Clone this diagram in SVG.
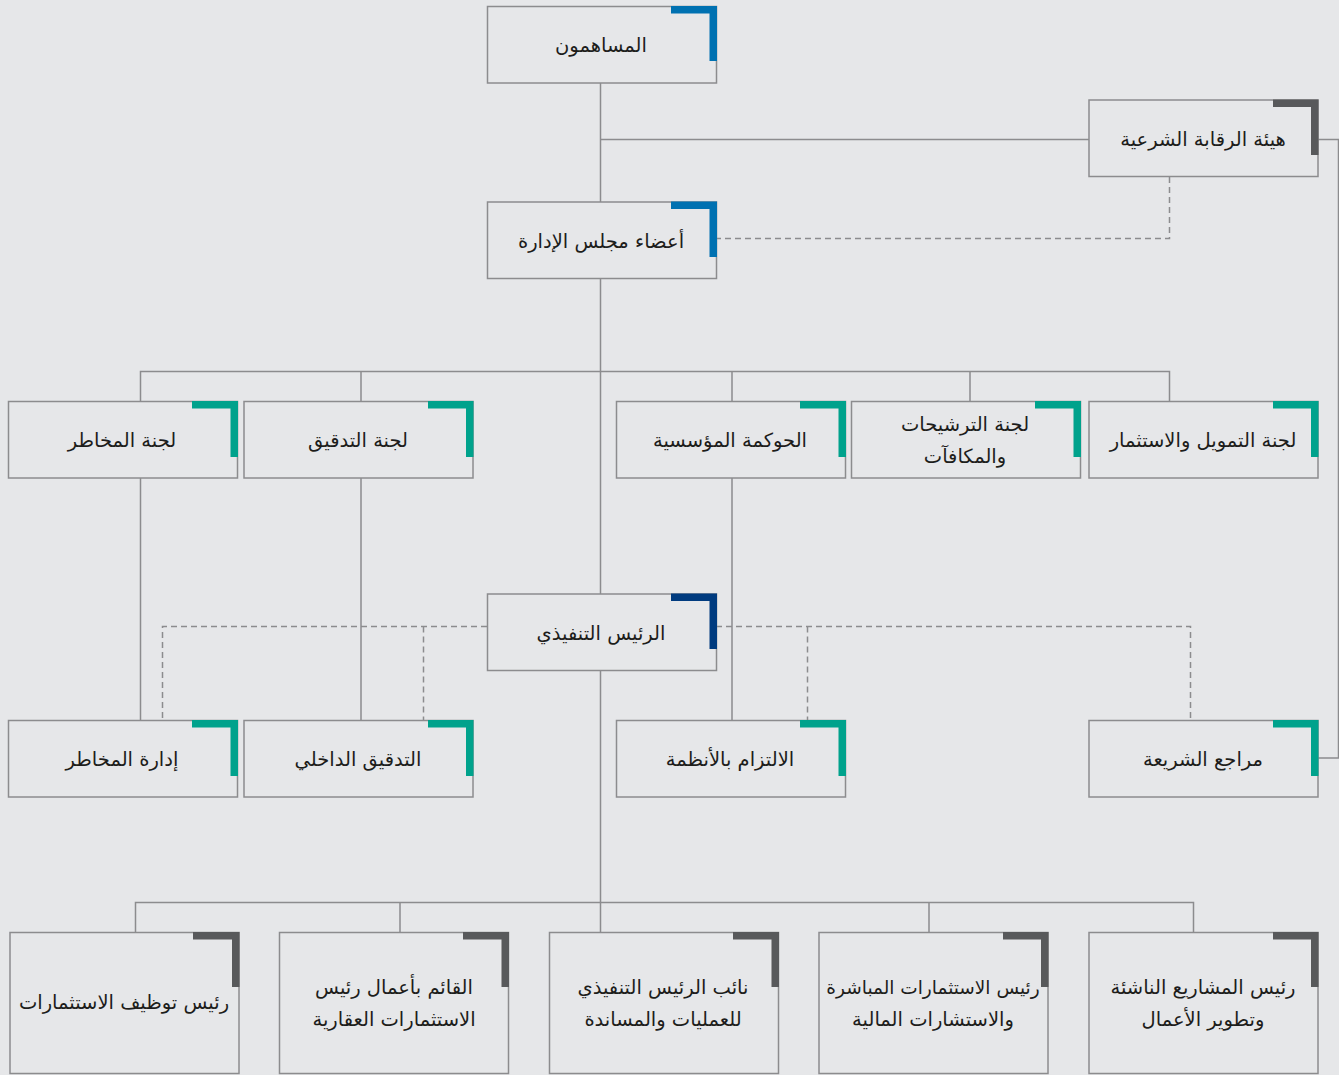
<svg xmlns="http://www.w3.org/2000/svg" width="1339" height="1075" viewBox="0 0 1339 1075">
<style>
.bg{fill:#e6e7e9}
.box{fill:#e6e7e9;stroke:#8c8c8e;stroke-width:1.5}
.ln{fill:none;stroke:#8c8c8e;stroke-width:1.5}
.dl{fill:none;stroke:#8c8c8e;stroke-width:1.5;stroke-dasharray:6 4}
.t{font-family:"DejaVu Sans",sans-serif;font-size:19.5px;fill:#1d1d1b;text-anchor:middle;direction:rtl}
.s{font-size:18.5px}
.blue{fill:#0071b1}
.navy{fill:#003b7f}
.teal{fill:#00a28c}
.gray{fill:#58595b}
</style>
<rect class="bg" x="0" y="0" width="1339" height="1075"/>
<g id="connectors">
<path class="ln" d="M600.5 83V202M600.5 139.5H1089M1318 139.5H1338.5V758H1318"/>
<path class="dl" d="M1169.5 177V238.5H716"/>
<path class="ln" d="M600.5 278V594M140.5 401V371.5H1169.5V401M361 371.5V401M732 371.5V401M970 371.5V401"/>
<path class="ln" d="M140.5 478V720M361 478V720M732 478V720"/>
<path class="dl" d="M487 626.5H162.5V720M423.5 626.5V720M716 626.5H1190.5V720M807.5 626.5V720"/>
<path class="ln" d="M600.5 670V932M135.5 932V902.5H1193.5V932M400 902.5V932M929 902.5V932"/>
</g>
<g id="n-shareholders">
<rect class="box" x="487.5" y="6.5" width="229" height="76.5"/>
<path class="blue" d="M671 6H717V61H709.5V13.5H671Z"/>
<text class="t" x="601" y="52">المساهمون</text>
</g>
<g id="n-shariah-board">
<rect class="box" x="1089" y="100" width="229" height="76.5"/>
<path class="gray" d="M1273 99.5H1318.5V155H1311V107H1273Z"/>
<text class="t" x="1203" y="146">هيئة الرقابة الشرعية</text>
</g>
<g id="n-board">
<rect class="box" x="487.5" y="202" width="229" height="76.5"/>
<path class="blue" d="M671 201.5H717V257H709.5V209H671Z"/>
<text class="t" x="601" y="248">أعضاء مجلس الإدارة</text>
</g>
<g id="n-risk-committee">
<rect class="box" x="8.5" y="401.5" width="229" height="76.5"/>
<path class="teal" d="M192 401H238V457H230.5V408.5H192Z"/>
<text class="t" x="122" y="447">لجنة المخاطر</text>
</g>
<g id="n-audit-committee">
<rect class="box" x="244" y="401.5" width="229" height="76.5"/>
<path class="teal" d="M428 401H473.5V457H466V408.5H428Z"/>
<text class="t" x="358" y="447">لجنة التدقيق</text>
</g>
<g id="n-governance">
<rect class="box" x="616.5" y="401.5" width="229" height="76.5"/>
<path class="teal" d="M800 401H846V457H838.5V408.5H800Z"/>
<text class="t" x="730" y="447">الحوكمة المؤسسية</text>
</g>
<g id="n-nomination">
<rect class="box" x="851.5" y="401.5" width="229" height="76.5"/>
<path class="teal" d="M1035 401H1081V457H1073.5V408.5H1035Z"/>
<text class="t" x="965" y="431">لجنة الترشيحات</text>
<text class="t" x="965" y="463">والمكافآت</text>
</g>
<g id="n-finance-committee">
<rect class="box" x="1089" y="401.5" width="229" height="76.5"/>
<path class="teal" d="M1273 401H1318.5V457H1311V408.5H1273Z"/>
<text class="t" x="1203" y="447">لجنة التمويل والاستثمار</text>
</g>
<g id="n-ceo">
<rect class="box" x="487.5" y="594" width="229" height="76.5"/>
<path class="navy" d="M671 593.5H717V649H709.5V601H671Z"/>
<text class="t" x="601" y="640">الرئيس التنفيذي</text>
</g>
<g id="n-risk-mgmt">
<rect class="box" x="8.5" y="720.5" width="229" height="76.5"/>
<path class="teal" d="M192 720H238V776H230.5V727.5H192Z"/>
<text class="t" x="122" y="766">إدارة المخاطر</text>
</g>
<g id="n-internal-audit">
<rect class="box" x="244" y="720.5" width="229" height="76.5"/>
<path class="teal" d="M428 720H473.5V776H466V727.5H428Z"/>
<text class="t" x="358" y="766">التدقيق الداخلي</text>
</g>
<g id="n-compliance">
<rect class="box" x="616.5" y="720.5" width="229" height="76.5"/>
<path class="teal" d="M800 720H846V776H838.5V727.5H800Z"/>
<text class="t" x="730" y="766">الالتزام بالأنظمة</text>
</g>
<g id="n-shariah-auditor">
<rect class="box" x="1089" y="720.5" width="229" height="76.5"/>
<path class="teal" d="M1273 720H1318.5V776H1311V727.5H1273Z"/>
<text class="t" x="1203" y="766">مراجع الشريعة</text>
</g>
<g id="n-investment-placement">
<rect class="box" x="10" y="932.5" width="229" height="141"/>
<path class="gray" d="M193 932H239.5V987H232V939.5H193Z"/>
<text class="t" x="124" y="1009">رئيس توظيف الاستثمارات</text>
</g>
<g id="n-real-estate">
<rect class="box" x="279.5" y="932.5" width="229" height="141"/>
<path class="gray" d="M463 932H509V987H501.5V939.5H463Z"/>
<text class="t" x="394" y="994">القائم بأعمال رئيس</text>
<text class="t" x="394" y="1026">الاستثمارات العقارية</text>
</g>
<g id="n-deputy-ceo">
<rect class="box" x="549.5" y="932.5" width="229" height="141"/>
<path class="gray" d="M733 932H779V987H771.5V939.5H733Z"/>
<text class="t" x="663" y="994">نائب الرئيس التنفيذي</text>
<text class="t" x="663" y="1026">للعمليات والمساندة</text>
</g>
<g id="n-direct-investments">
<rect class="box" x="819" y="932.5" width="229" height="141"/>
<path class="gray" d="M1003 932H1048.5V987H1041V939.5H1003Z"/>
<text class="t s" x="933" y="994">رئيس الاستثمارات المباشرة</text>
<text class="t" x="933" y="1026">والاستشارات المالية</text>
</g>
<g id="n-startups">
<rect class="box" x="1089" y="932.5" width="229" height="141"/>
<path class="gray" d="M1273 932H1318.5V987H1311V939.5H1273Z"/>
<text class="t" x="1203" y="994">رئيس المشاريع الناشئة</text>
<text class="t" x="1203" y="1026">وتطوير الأعمال</text>
</g>
</svg>
